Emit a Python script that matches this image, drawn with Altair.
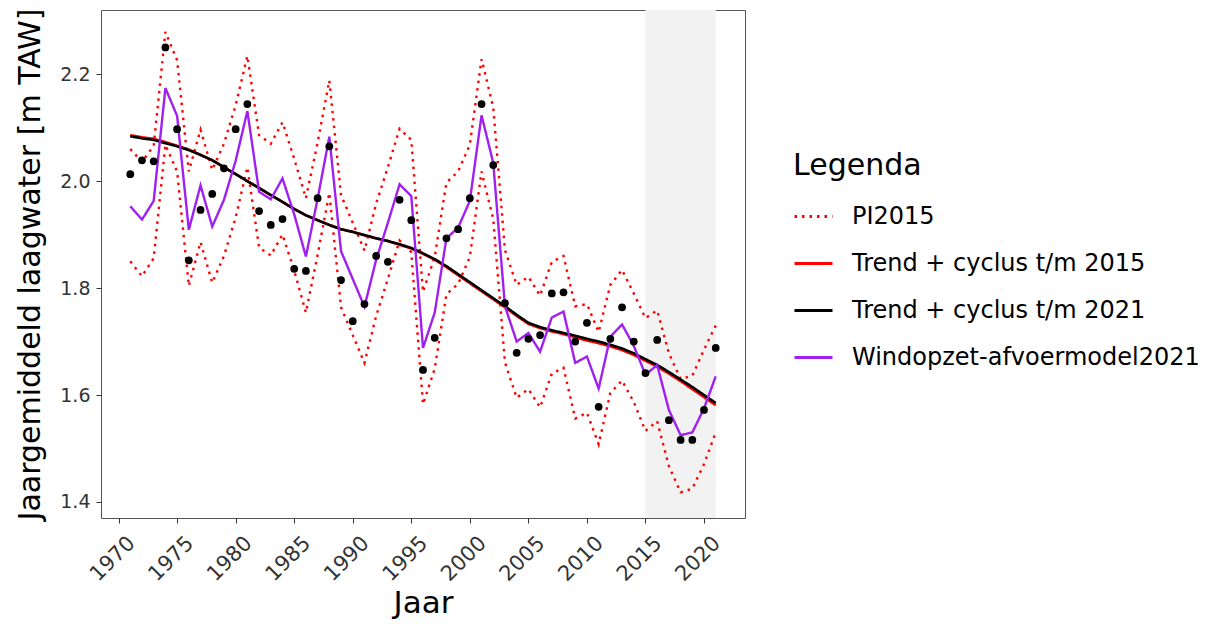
import altair as alt
import pandas as pd

years = list(range(1971, 2022))

observed = [2.013, 2.039, 2.037, 2.250, 2.097, 1.852, 1.946, 1.976, 2.024, 2.097,
            2.144, 1.944, 1.918, 1.929, 1.836, 1.832, 1.968, 2.065, 1.815, 1.738,
            1.770, 1.860, 1.849, 1.965, 1.927, 1.647, 1.707, 1.893, 1.910, 1.968,
            2.144, 2.030, 1.772, 1.679, 1.705, 1.712, 1.790, 1.792, 1.700, 1.735,
            1.578, 1.705, 1.764, 1.700, 1.641, 1.703, 1.553, 1.516, 1.516, 1.572,
            1.688]

model2021 = [1.953, 1.928, 1.963, 2.174, 2.122, 1.909, 1.992, 1.915, 1.965, 2.038,
             2.131, 1.980, 1.966, 2.005, 1.938, 1.859, 1.967, 2.083, 1.869, 1.817,
             1.765, 1.853, 1.922, 1.994, 1.972, 1.688, 1.754, 1.893, 1.913, 1.963,
             2.123, 2.034, 1.766, 1.700, 1.716, 1.681, 1.745, 1.756, 1.660, 1.672,
             1.612, 1.709, 1.732, 1.692, 1.638, 1.656, 1.572, 1.525, 1.530, 1.575,
             1.635]

pi_upper = [2.060, 2.036, 2.066, 2.279, 2.226, 2.018, 2.096, 2.021, 2.070, 2.142,
            2.234, 2.086, 2.070, 2.110, 2.042, 1.968, 2.072, 2.188, 1.974, 1.922,
            1.870, 1.958, 2.026, 2.098, 2.077, 1.793, 1.858, 1.997, 2.018, 2.068,
            2.228, 2.138, 1.871, 1.806, 1.821, 1.786, 1.849, 1.860, 1.766, 1.770,
            1.718, 1.806, 1.834, 1.790, 1.744, 1.758, 1.678, 1.630, 1.636, 1.685,
            1.730]

pi_lower = [1.850, 1.822, 1.856, 2.068, 2.018, 1.804, 1.886, 1.810, 1.860, 1.932,
            2.026, 1.876, 1.861, 1.900, 1.833, 1.754, 1.862, 1.978, 1.764, 1.712,
            1.660, 1.748, 1.817, 1.889, 1.867, 1.583, 1.649, 1.788, 1.808, 1.858,
            2.018, 1.929, 1.661, 1.595, 1.611, 1.577, 1.640, 1.651, 1.556, 1.567,
            1.508, 1.604, 1.627, 1.587, 1.533, 1.551, 1.467, 1.418, 1.425, 1.471,
            1.530]

trend2021 = [2.084, 2.080, 2.077, 2.071, 2.065, 2.058, 2.049, 2.039, 2.026, 2.013,
             2.000, 1.987, 1.974, 1.961, 1.948, 1.936, 1.927, 1.918, 1.910, 1.905,
             1.899, 1.893, 1.888, 1.882, 1.875, 1.865, 1.854, 1.841, 1.826, 1.811,
             1.796, 1.781, 1.766, 1.750, 1.735, 1.727, 1.721, 1.716, 1.711, 1.705,
             1.700, 1.694, 1.687, 1.678, 1.667, 1.656, 1.643, 1.629, 1.615, 1.600,
             1.585]

trend2015 = [2.086, 2.082, 2.079, 2.073, 2.066, 2.059, 2.049, 2.039, 2.026, 2.013,
             2.000, 1.987, 1.974, 1.961, 1.948, 1.936, 1.927, 1.918, 1.910, 1.905,
             1.899, 1.893, 1.888, 1.881, 1.874, 1.864, 1.853, 1.839, 1.824, 1.809,
             1.794, 1.779, 1.764, 1.748, 1.733, 1.725, 1.719, 1.714, 1.708, 1.702,
             1.697, 1.691, 1.684, 1.675, 1.664, 1.653, 1.640, 1.626, 1.611, 1.596,
             1.581]

shade_start, shade_end = 2015, 2021
x_ticks = list(range(1970, 2021, 5))
y_ticks = [1.4, 1.6, 1.8, 2.0, 2.2]
X_DOMAIN = [1968.5, 2023.5]
Y_DOMAIN = [1.370, 2.320]

series_names = ["PI2015", "Trend + cyclus t/m 2015", "Trend + cyclus t/m 2021",
                "Windopzet-afvoermodel2021"]
series_colors = ["#FF0000", "#FF0000", "#000000", "#A020F0"]
series_dash = [[2.5, 5], [1, 0], [1, 0], [1, 0]]

FONT = "DejaVu Sans"
W, H = 644, 508

# ---- tables ----
rows = []
for y, u, l in zip(years, pi_upper, pi_lower):
    rows.append({"year": y, "value": u, "serie": series_names[0], "part": "upper"})
    rows.append({"year": y, "value": l, "serie": series_names[0], "part": "lower"})
for y, v in zip(years, trend2015):
    rows.append({"year": y, "value": v, "serie": series_names[1], "part": "a"})
for y, v in zip(years, trend2021):
    rows.append({"year": y, "value": v, "serie": series_names[2], "part": "a"})
for y, v in zip(years, model2021):
    rows.append({"year": y, "value": v, "serie": series_names[3], "part": "a"})
lines_df = pd.DataFrame(rows)

obs_df = pd.DataFrame({"year": years, "value": observed})
shade_df = pd.DataFrame({"year": [shade_start], "year_end": [shade_end],
                         "value": [Y_DOMAIN[0]], "value_end": [Y_DOMAIN[1]]})

xscale = alt.Scale(domain=X_DOMAIN, nice=False, zero=False)
yscale = alt.Scale(domain=Y_DOMAIN, nice=False, zero=False)

xaxis = alt.Axis(values=x_ticks, format="d", labelAngle=315, labelAlign="right",
                 labelBaseline="top", labelPadding=9, labelOffset=5, titlePadding=4,
                 labelFontSize=21, titleFontSize=31)
yaxis = alt.Axis(values=y_ticks, format=".1f", labelPadding=6, titlePadding=14,
                 labelFontSize=19, titleFontSize=30)

X = alt.X("year:Q", scale=xscale, axis=xaxis, title="Jaar")
Y = alt.Y("value:Q", scale=yscale, axis=yaxis, title="Jaargemiddeld laagwater [m TAW]")

legend = alt.Legend(title="Legenda", orient="none", legendX=692, legendY=141,
                    symbolType="stroke", symbolSize=1444, symbolStrokeWidth=3,
                    labelFontSize=24, titleFontSize=30, titleFontWeight="normal",
                    labelOffset=18, rowPadding=14, titlePadding=15, labelLimit=0,
                    labelColor="black", titleColor="black", padding=0)
color_scale = alt.Scale(domain=series_names, range=series_colors)
dash_scale = alt.Scale(domain=series_names, range=series_dash)

shade = alt.Chart(shade_df).mark_rect(color="#F2F2F2").encode(
    x=X, x2="year_end:Q", y=Y, y2="value_end:Q")


def line_layer(name, width):
    return alt.Chart(lines_df[lines_df["serie"] == name]).mark_line(
        strokeWidth=width).encode(
        x=X, y=Y,
        color=alt.Color("serie:N", scale=color_scale, legend=legend),
        strokeDash=alt.StrokeDash("serie:N", scale=dash_scale, legend=legend),
        detail="part:N")


points = alt.Chart(obs_df).mark_circle(size=60, color="black", opacity=1).encode(x=X, y=Y)

chart = alt.layer(
    shade,
    line_layer(series_names[0], 2.4),
    line_layer(series_names[1], 2.6),
    line_layer(series_names[2], 2.6),
    line_layer(series_names[3], 2.4),
    points,
).properties(
    width=W, height=H,
    autosize=alt.AutoSizeParams(type="none"),
    padding={"left": 93, "top": 2, "right": 455, "bottom": 106},
).configure(font=FONT).configure_view(
    stroke="#555555", strokeWidth=1
).configure_axis(
    grid=False, domain=False, tickColor="#333333", tickSize=5, tickWidth=1,
    labelColor="#333333", labelFont=FONT, titleFont=FONT,
    titleFontWeight="normal", titleColor="black"
).configure_legend(labelFont=FONT, titleFont=FONT)

chart.save("out.html", embed_options={"renderer": "svg", "actions": False})
